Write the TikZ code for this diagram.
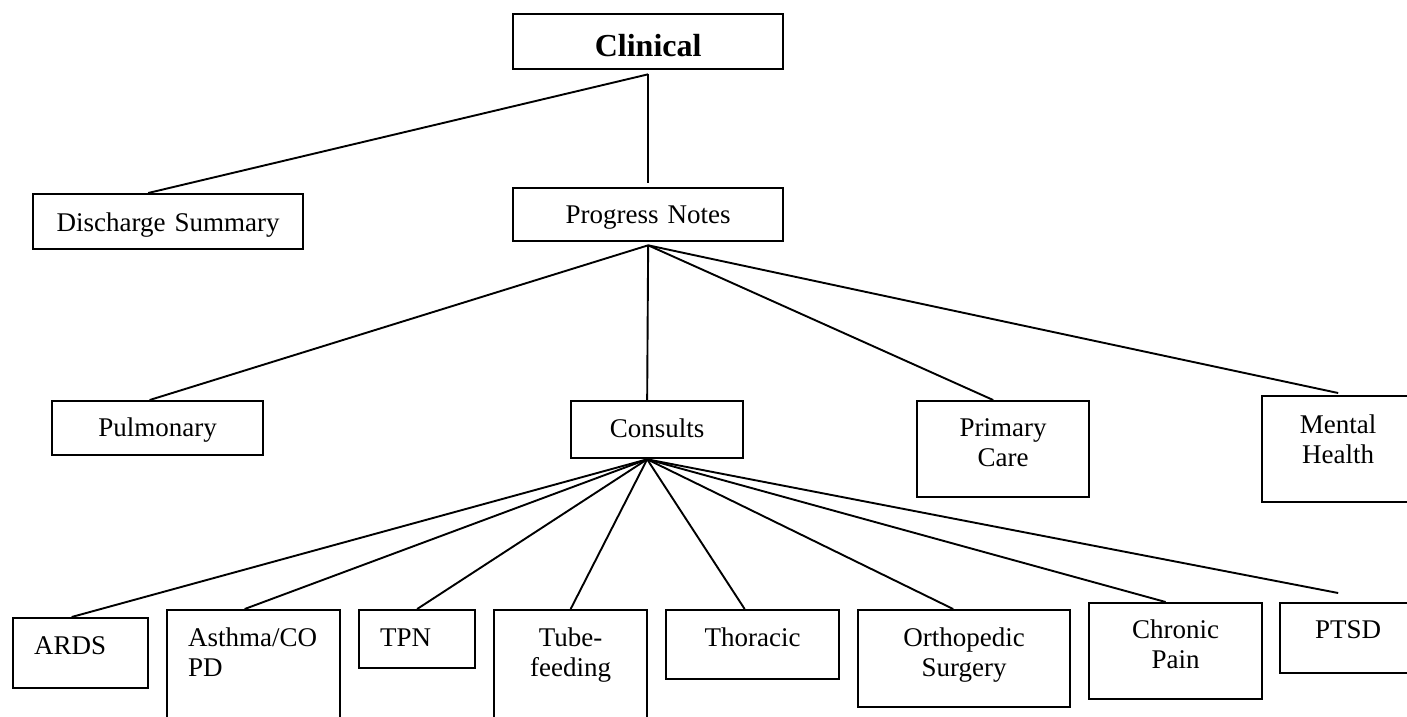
\documentclass[tikz,border=0pt]{standalone}
\usepackage{fontspec}
\setmainfont{Liberation Serif}

\tikzset{
  box/.style={draw, line width=2.3pt, rectangle, anchor=north west, inner sep=0pt,
    align=center, text height=36pt, font=\fontsize{27}{30}\selectfont},
  lbox/.style={box, align=left},
}

\begin{document}
\begin{tikzpicture}[x=1pt, y=-1pt]

\useasboundingbox (0,0) rectangle (1407,716);
\clip (0,0) rectangle (1407,716);

\node[box, minimum width=270pt, text width=228pt, text height=42pt, text depth=13pt, font=\bfseries\fontsize{32}{36}\selectfont] (clin) at (512,13) {Clinical};
\node[box, minimum width=270pt, text width=228pt, text height=37pt, text depth=18pt] (disc) at (32,193) {Discharge Summary};
\node[box, minimum width=270pt, text width=228pt, text height=35pt, text depth=18pt] (prog) at (512,187) {Progress Notes};

\node[box, minimum width=211pt, text width=169pt, text height=35pt, text depth=19pt] (pulm) at (51,400) {Pulmonary};
\node[box, minimum width=172pt, text width=130pt, text depth=21pt] (cons) at (570,400) {Consults};
\node[box, minimum width=172pt, text width=130pt, text height=35pt, text depth=61pt] (prim) at (916,400) {Primary\\Care};
\node[box, minimum width=152pt, text width=110pt, text height=37pt, text depth=69pt] (ment) at (1261,395) {Mental\\Health};

\node[lbox, minimum width=135pt, text width=93pt, text depth=34pt] (ards) at (12,617) {ARDS};
\node[lbox, minimum width=173pt, text width=131pt, text depth=84pt] (asth) at (166,609) {Asthma/CO\\PD};
\node[lbox, minimum width=116pt, text width=74pt, text depth=22pt] (tpn) at (358,609) {TPN};
\node[box, minimum width=153pt, text width=111pt, text depth=84pt] (tube) at (493,609) {Tube-\\feeding};
\node[box, minimum width=173pt, text width=131pt, text depth=33pt] (thor) at (665,609) {Thoracic};
\node[box, minimum width=212pt, text width=170pt, text depth=61pt] (orth) at (857,609) {Orthopedic\\Surgery};
\node[box, minimum width=173pt, text width=131pt, text height=35pt, text depth=61pt] (chro) at (1088,602) {Chronic\\Pain};
\node[box, minimum width=136pt, text width=94pt, text height=35pt, text depth=35pt] (ptsd) at (1279,602) {PTSD};

\begin{scope}[line width=1.9pt]
\draw ([yshift=-4pt]clin.south) -- ([xshift=-20pt]disc.north); %clin-disc
\draw ([yshift=-4pt]clin.south) -- ([yshift=4pt]prog.north); %clin-prog
\draw ([yshift=-3pt]prog.south) -- ([xshift=-8pt]pulm.north); %prog-pulm
\draw ([yshift=-3pt]prog.south) -- ([xshift=-10pt]cons.north); %prog-cons
\draw ([yshift=-3pt]prog.south) -- ([xshift=-10pt]prim.north); %prog-prim
\draw ([yshift=-3pt]prog.south) -- ([yshift=2pt]ment.north); %prog-ment
\draw ([xshift=-10pt]cons.south) -- ([xshift=-9pt]ards.north); %cons-ards
\draw ([xshift=-10pt]cons.south) -- ([xshift=-9pt]asth.north); %cons-asth
\draw ([xshift=-10pt]cons.south) -- (tpn.north); %cons-tpn
\draw ([xshift=-10pt]cons.south) -- (tube.north); %cons-tube
\draw ([xshift=-10pt]cons.south) -- ([xshift=-8pt]thor.north); %cons-thor
\draw ([xshift=-10pt]cons.south) -- ([xshift=-11pt]orth.north); %cons-orth
\draw ([xshift=-10pt]cons.south) -- ([xshift=-10pt]chro.north); %cons-chro
\draw ([xshift=-10pt]cons.south) -- ([xshift=-10pt,yshift=9pt]ptsd.north); %cons-ptsd
\end{scope}

\end{tikzpicture}
\end{document}
